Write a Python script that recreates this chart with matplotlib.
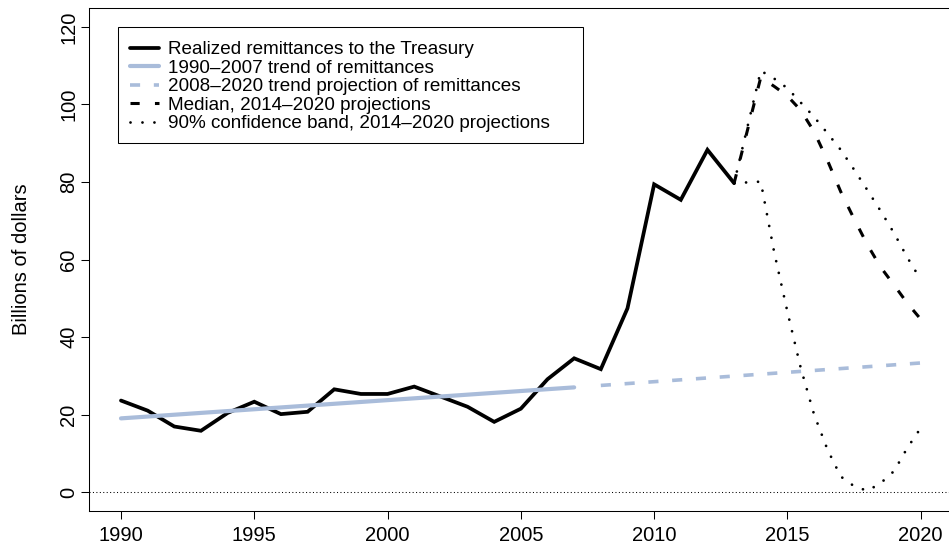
import numpy as np
import matplotlib
matplotlib.use('Agg')
import matplotlib.pyplot as plt
from matplotlib.patches import Rectangle

plt.rcParams['font.family'] = ['Liberation Sans', 'DejaVu Sans']

#*******************************************************************************
# data (billions of dollars)

realized_years = [1990, 1991, 1992, 1993, 1994, 1995, 1996, 1997, 1998, 1999, 2000, 2001,
                  2002, 2003, 2004, 2005, 2006, 2007, 2008, 2009, 2010, 2011, 2012, 2013]
realized_vals = [23.6, 21.0, 16.9, 15.8, 20.4, 23.3, 20.1, 20.7, 26.5, 25.3, 25.3, 27.2,
                 24.6, 22.0, 18.1, 21.5, 29.1, 34.5, 31.7, 47.4, 79.4, 75.4, 88.3, 79.7]

trend_years = [1990, 2007]
trend_vals = [19.0, 27.0]

trend_proj_years = [2008, 2020]
trend_proj_vals = [27.5, 33.3]

proj_years = [2013, 2014, 2014.5, 2015, 2015.5, 2016, 2016.5, 2017, 2017.5,
              2018, 2018.5, 2019, 2019.5, 2020]
median_vals = [79.7, 107.0, 104.7, 102.2, 98.5, 93.0, 85.6, 77.5, 70.5,
               63.8, 58.0, 53.4, 48.7, 44.6]
upper_vals = [79.7, 108.7, 106.7, 104.2, 100.5, 96.8, 92.6, 88.3, 83.2,
              77.9, 72.5, 66.8, 60.5, 54.8]
lower_vals = [79.7, 80.1, 62.0, 46.5, 32.0, 20.0, 11.0, 4.0, 1.5,
              0.3, 2.3, 5.4, 11.4, 16.5]

x_ticks = [1990, 1995, 2000, 2005, 2010, 2015, 2020]
y_ticks = [0, 20, 40, 60, 80, 100, 120]

labels = ['Realized remittances to the Treasury',
          '1990\u20132007 trend of remittances',
          '2008\u20132020 trend projection of remittances',
          'Median, 2014\u20132020 projections',
          '90% confidence band, 2014\u20132020 projections']

#*******************************************************************************

blue = '#a9bcda'
fs_axis = 14.5
fs_leg = 13.6

fig = plt.figure(figsize=(9.49, 5.52), dpi=100)
# axes box in pixels: left 89, right 952.7 (cut off), top 8.4, bottom 510.6
ax = fig.add_axes([89/949, 1 - 510.6/552, (952.7 - 89)/949, (510.6 - 8.4)/552])
W, H = 863.7, 502.2

ax.axhline(0, color='black', lw=0.75, linestyle=(0, (1, 2.3)))

l1, = ax.plot(realized_years, realized_vals, color='black', lw=2.7,
              solid_capstyle='round', solid_joinstyle='miter')
l2, = ax.plot(trend_years, trend_vals, color=blue, lw=3.0, solid_capstyle='round')
l3, = ax.plot(trend_proj_years, trend_proj_vals, color=blue, lw=2.6,
              linestyle=(0, (2.8, 3.8)))
l4, = ax.plot(proj_years, median_vals, color='black', lw=2.2, linestyle=(0, (3, 5)))
l5, = ax.plot(proj_years, upper_vals, color='black', lw=2.0, linestyle=(0, (0.01, 4.3)),
              dash_capstyle='round')
ax.plot(proj_years, lower_vals, color='black', lw=2.0, linestyle=(0, (0.01, 4.3)),
        dash_capstyle='round')

ax.set_xlim(1988.8, 2021.2)
ax.set_ylim(-4.8, 124.8)
ax.set_xticks(x_ticks)
ax.set_yticks(y_ticks)
ax.tick_params(axis='both', direction='out', length=5.8, width=0.75, labelsize=fs_axis)
ax.tick_params(axis='x', pad=5)
ax.tick_params(axis='y', pad=2)
for t in ax.get_yticklabels():
	t.set_rotation(90)
	t.set_va('center')
for s in ax.spines.values():
	s.set_linewidth(0.75)

ax.set_ylabel('Billions of dollars', fontsize=fs_axis)
ax.yaxis.set_label_coords(-0.0672, 0.5)

# legend box drawn by hand (R style, wide right margin)
ax.add_patch(Rectangle(((118 - 89)/W, (510.6 - 143)/H), 465/W, 116/H,
                       transform=ax.transAxes, facecolor='white', edgecolor='black',
                       lw=0.75, zorder=4))
leg = ax.legend([l1, l2, l3, l4, l5], labels, loc='upper left',
                bbox_to_anchor=((130 - 89)/W, (510.6 - 41.2)/H),
                borderaxespad=0, borderpad=0, fontsize=fs_leg, frameon=False,
                handlelength=1.55, handletextpad=0.45, labelspacing=0.065)
leg.set_zorder(5)

plt.savefig('out.png', dpi=100)
plt.close()
